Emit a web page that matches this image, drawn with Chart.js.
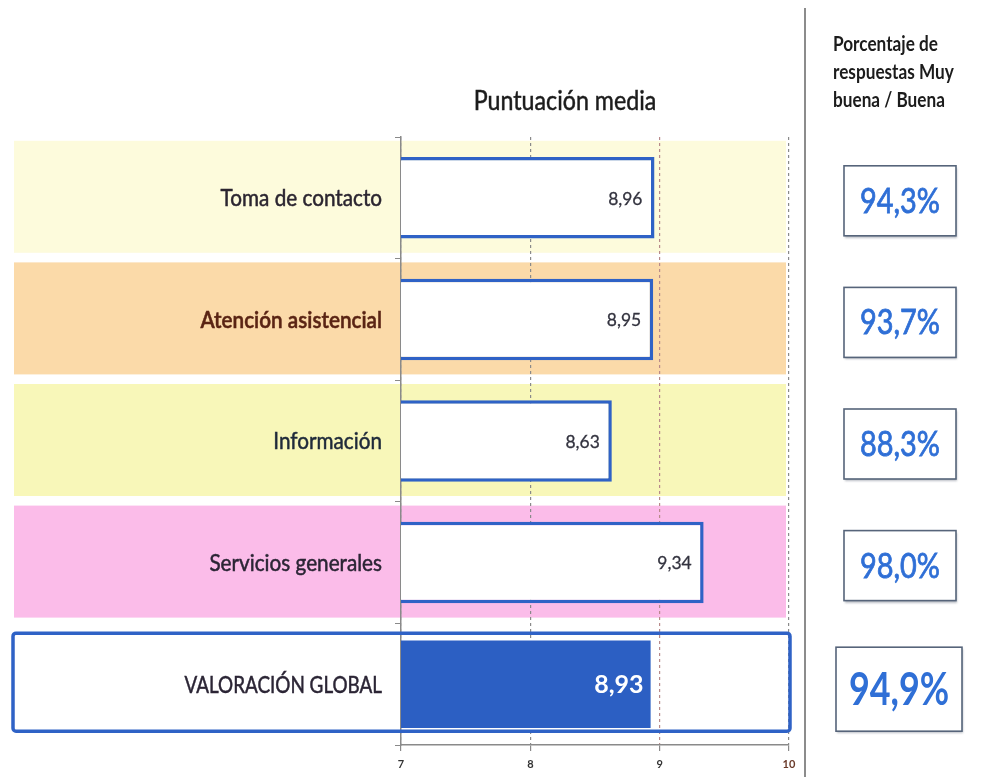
<!DOCTYPE html>
<html lang="es">
<head>
<meta charset="UTF-8">
<title>Puntuación media</title>
<script src="https://cdn.jsdelivr.net/npm/chart.js"></script>
<style>
  html, body { margin: 0; padding: 0; background: #fff; }
  #wrap { width: 984px; height: 777px; }
</style>
</head>
<body>
<div id="wrap"><canvas id="chart" width="984" height="777"></canvas></div>
<script>
// data
const categories = ['Toma de contacto', 'Atención asistencial', 'Información', 'Servicios generales', 'VALORACIÓN GLOBAL'];
const meanScores = [8.96, 8.95, 8.63, 9.34, null];
const globalScore = [null, null, null, null, 8.93];
const pctGood = [94.3, 93.7, 88.3, 98.0, 94.9];
const axisMin = 7, axisMax = 10;

// styles
const bandColors = ['#fdfbdc', '#fbdaa9', '#f8f7b9', '#fbbce9'];
const labelColors = ['#2b2530', '#5a2414', '#1f2a3a', '#2b2535', '#2b2535'];
const labelWeights = ['normal', '600', 'normal', 'normal', 'normal'];
const blue = '#2f62c6';
const FONT = 'Lato, "Open Sans", sans-serif';

const fmt = (v, d) => v.toFixed(d).replace('.', ',');

// text squeezed sideways, to get the narrow look of the original typeface
function narrowText(ctx, text, x, y, font, align, sx, thicken) {
  ctx.save();
  ctx.font = font;
  ctx.textAlign = align;
  ctx.translate(x, y);
  ctx.scale(sx, 1);
  ctx.fillText(text, 0, 0);
  if (thicken) {
    ctx.strokeStyle = ctx.fillStyle;
    ctx.lineWidth = thicken;
    ctx.strokeText(text, 0, 0);
  }
  ctx.restore();
}

const decor = {
  id: 'decor',
  beforeDraw(chart) {
    const { ctx } = chart;
    const y = chart.scales.y;
    ctx.save();
    // coloured bands behind each category
    bandColors.forEach((c, i) => {
      const cy = y.getPixelForValue(i);
      ctx.fillStyle = c;
      ctx.fillRect(14, cy - 57, 772, 112);
    });
    const gy = y.getPixelForValue(4);
    ctx.fillStyle = '#fff';
    ctx.fillRect(12, gy - 51, 778, 99);
    ctx.restore();
  },
  afterDatasetsDraw(chart) {
    const { ctx } = chart;
    const y = chart.scales.y;
    ctx.save();
    ctx.textBaseline = 'middle';

    // border round the global row
    const gy = y.getPixelForValue(4);
    ctx.strokeStyle = blue;
    ctx.lineWidth = 3.5;
    ctx.beginPath();
    ctx.roundRect(13, gy - 51, 777, 98, 3);
    ctx.stroke();

    // category labels
    categories.forEach((c, i) => {
      ctx.fillStyle = labelColors[i];
      const sx = i === categories.length - 1 ? 0.82 : 0.9;
      narrowText(ctx, c, 382, y.getPixelForValue(i) + 1, labelWeights[i] + ' 23px ' + FONT, 'right', sx, 0.5);
    });

    // values inside the bars
    chart.getDatasetMeta(0).data.forEach((bar, i) => {
      if (meanScores[i] == null) return;
      ctx.fillStyle = '#33333f';
      narrowText(ctx, fmt(meanScores[i], 2), bar.x - 12, bar.y + 1, '18px ' + FONT, 'right', 0.97, 0.3);
    });
    chart.getDatasetMeta(1).data.forEach((bar, i) => {
      if (globalScore[i] == null) return;
      ctx.fillStyle = '#fff';
      narrowText(ctx, fmt(globalScore[i], 2), bar.x - 7, bar.y + 1, 'bold 25px ' + FONT, 'right', 1);
    });

    // title
    ctx.fillStyle = '#1c1c1c';
    narrowText(ctx, 'Puntuación media', 565, 101, '27px ' + FONT, 'center', 0.86, 0.5);

    // separator
    ctx.strokeStyle = '#8c8c8c';
    ctx.lineWidth = 2;
    ctx.beginPath();
    ctx.moveTo(805, 8);
    ctx.lineTo(805, 777);
    ctx.stroke();

    // right panel heading
    ctx.fillStyle = '#1c1c1c';
    ['Porcentaje de', 'respuestas Muy', 'buena / Buena'].forEach((t, k) => {
      narrowText(ctx, t, 833, 45 + k * 28, 'bold 20px ' + FONT, 'left', 0.86);
    });

    // percentage boxes
    pctGood.forEach((p, i) => {
      const isGlobal = i === categories.length - 1;
      const cy = y.getPixelForValue(i) + (isGlobal ? 5 : 3);
      const w = isGlobal ? 126 : 112, h = isGlobal ? 84 : 70;
      const x0 = (isGlobal ? 899 : 900) - w / 2, y0 = cy - h / 2;
      ctx.fillStyle = '#fff';
      ctx.shadowColor = 'rgba(60,70,90,0.35)';
      ctx.shadowOffsetX = 1;
      ctx.shadowOffsetY = 2;
      ctx.shadowBlur = 2;
      ctx.fillRect(x0, y0, w, h);
      ctx.shadowColor = 'transparent';
      ctx.strokeStyle = '#56647a';
      ctx.lineWidth = 1.6;
      ctx.strokeRect(x0, y0, w, h);
      ctx.fillStyle = '#2f6fd6';
      narrowText(ctx, fmt(p, 1) + '%', x0 + w / 2, cy + 1,
        isGlobal ? 'bold 46px ' + FONT : '34px ' + FONT, 'center', isGlobal ? 0.78 : 0.85, isGlobal ? 0 : 0.8);
    });
    ctx.restore();
  }
};

new Chart(document.getElementById('chart'), {
  type: 'bar',
  data: {
    labels: categories,
    datasets: [
      {
        data: meanScores,
        backgroundColor: '#fff',
        borderColor: blue,
        borderWidth: 3.5,
        borderSkipped: false,
        barPercentage: 0.67,
        categoryPercentage: 1,
        grouped: false
      },
      {
        data: globalScore,
        backgroundColor: '#2c5fc3',
        borderWidth: 0,
        barPercentage: 0.72,
        categoryPercentage: 1,
        grouped: false
      }
    ]
  },
  options: {
    indexAxis: 'y',
    responsive: false,
    animation: false,
    layout: { padding: { top: 137, right: 195, left: 0, bottom: 0 } },
    plugins: { legend: { display: false }, tooltip: { enabled: false } },
    scales: {
      x: {
        min: axisMin,
        max: axisMax,
        ticks: {
          stepSize: 1,
          padding: 7,
          color: ctx => ctx.tick && ctx.tick.value === axisMax ? '#6a3a2a' : '#333',
          font: { family: FONT, size: 11, weight: 'bold' }
        },
        grid: {
          color: ctx => ctx.tick && ctx.tick.value === 9 ? '#b88a8a' : '#8a8a8a',
          lineWidth: 1.2,
          tickLength: 6,
          tickColor: '#8a8a8a'
        },
        border: { display: true, color: '#8a8a8a', width: 1.5, dash: [3, 3] },
        afterFit(scale) { scale.height = 32; }
      },
      y: {
        ticks: { display: false },
        grid: {
          offset: true,
          drawOnChartArea: false,
          tickLength: 6,
          color: '#8a8a8a'
        },
        border: { color: '#8a8a8a', width: 1.5 },
        afterFit(scale) { scale.width = 401; }
      }
    }
  },
  plugins: [decor]
});
</script>
</body>
</html>
